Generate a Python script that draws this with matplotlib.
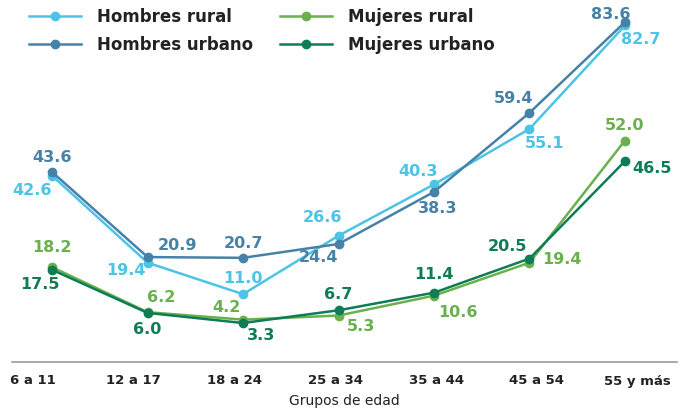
import matplotlib.pyplot as plt
import numpy as np

# data
grupos = ['6 a 11', '12 a 17', '18 a 24', '25 a 34', '35 a 44', '45 a 54', '55 y más']
hombres_rural = [42.6, 19.4, 11.0, 26.6, 40.3, 55.1, 82.7]
hombres_urbano = [43.6, 20.9, 20.7, 24.4, 38.3, 59.4, 83.6]
mujeres_rural = [18.2, 6.2, 4.2, 5.3, 10.6, 19.4, 52.0]
mujeres_urbano = [17.5, 6.0, 3.3, 6.7, 11.4, 20.5, 46.5]

# label offsets in pixels (dx, dy), dy positive = up
off_hr = [(-20, -15), (-22, -8), (0, 16), (-16, 18), (-16, 13), (15, -15), (16, -14)]
off_hu = [(0, 15), (30, 12), (0, 14), (-20, -14), (4, -17), (-16, 14), (-14, 8)]
off_mr = [(0, 20), (14, 15), (-17, 12), (22, -11), (24, -17), (32, 3), (0, 15)]
off_mu = [(-12, -15), (0, -17), (18, -12), (0, 16), (0, 18), (-22, 12), (27, -7)]

c_hr = '#4cc4e6'
c_hu = '#4682a8'
c_mr = '#6ab04c'
c_mu = '#0e7d55'

x = np.arange(len(grupos))

fig = plt.figure(figsize=(6.82, 4.09), dpi=100)
ax = fig.add_axes([12 / 682, 1 - 362 / 409, 665 / 682, 362 / 409])

series = [
    ('Hombres rural', hombres_rural, c_hr, off_hr),
    ('Hombres urbano', hombres_urbano, c_hu, off_hu),
    ('Mujeres rural', mujeres_rural, c_mr, off_mr),
    ('Mujeres urbano', mujeres_urbano, c_mu, off_mu),
]

for name, vals, col, offs in series:
    ax.plot(x, vals, color=col, lw=1.8, marker='o', ms=6, label=name)
    for xi, v, (dx, dy) in zip(x, vals, offs):
        ax.annotate('%.1f' % v, (xi, v), xytext=(dx, dy), textcoords='offset pixels',
                    ha='center', va='center', color=col, fontsize=11.5,
                    fontweight='bold')

ax.set_xlim(-0.42, 6.545)
ax.set_ylim(-7.1, 89.5)

# category labels spread a bit wider than the points
tick_pos = -0.2 + np.arange(len(grupos)) * 1.0555
ax.set_xticks(tick_pos)
ax.set_xticklabels(grupos, fontsize=9.5, fontweight='bold', color='#222222')
ax.tick_params(axis='x', length=0, pad=9)
ax.set_yticks([])
ax.set_xlabel('Grupos de edad', fontsize=10, color='#222222', labelpad=5)

for s in ['top', 'right', 'left']:
    ax.spines[s].set_visible(False)
ax.spines['bottom'].set_color('#999999')
ax.spines['bottom'].set_linewidth(1.2)

leg = ax.legend(ncol=2, loc='upper left', bbox_to_anchor=(0.003, 1.02), frameon=False,
                prop={'weight': 'bold', 'size': 12}, handlelength=3.1,
                columnspacing=1.6, labelspacing=0.6, handletextpad=1.0)
for t in leg.get_texts():
    t.set_color('#222222')

fig.savefig('out.png', dpi=100)
